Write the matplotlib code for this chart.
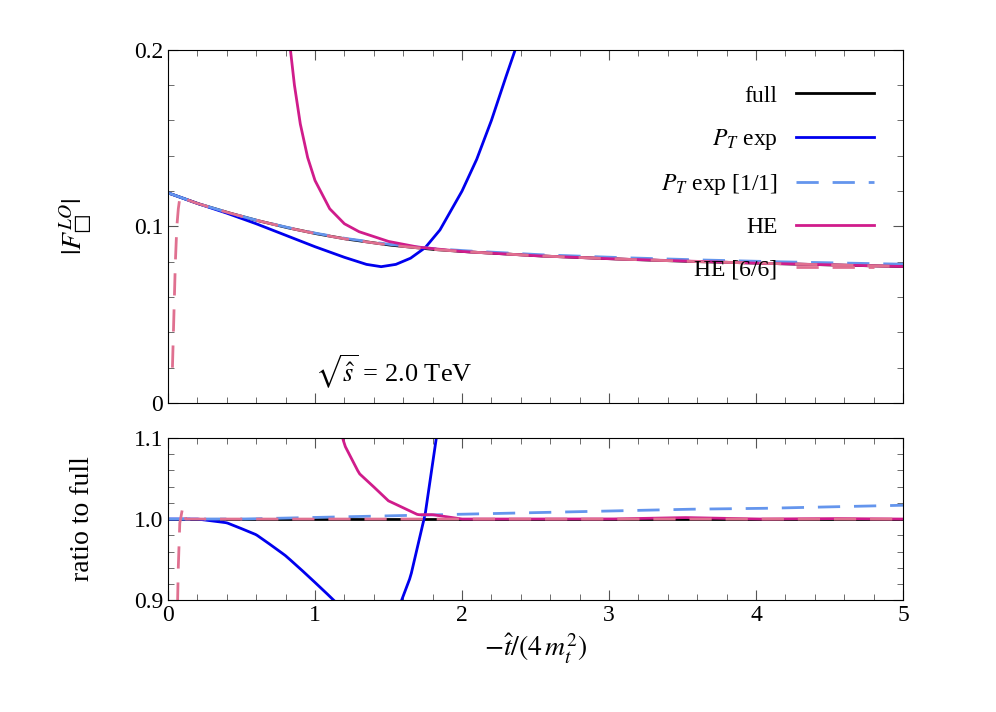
import numpy as np
import matplotlib.pyplot as plt
from matplotlib.ticker import MultipleLocator

plt.rcParams["font.family"] = "Liberation Serif"
plt.rcParams["mathtext.fontset"] = "stix"
plt.rcParams["font.size"] = 17

# full result
x_full = [0.0, 0.2, 0.4, 0.6, 0.8, 1.0, 1.2, 1.5, 1.8, 2.0, 2.5, 3.0, 3.5, 4.0, 4.5, 5.0]
y_full = [0.119, 0.113, 0.108, 0.1035, 0.0995, 0.096, 0.093, 0.0895, 0.087, 0.0858, 0.0834, 0.0817, 0.0803, 0.0792, 0.0782, 0.0773]

# P_T expansion
x_pt = [0.0, 0.2, 0.4, 0.6, 0.8, 1.0, 1.2, 1.35, 1.45, 1.55, 1.65, 1.75, 1.85, 2.0, 2.1, 2.2, 2.3, 2.37]
y_pt = [0.119, 0.113, 0.1075, 0.1015, 0.095, 0.0885, 0.0825, 0.0785, 0.0772, 0.0785, 0.082, 0.088, 0.098, 0.12, 0.138, 0.16, 0.185, 0.202]

# P_T exp [1/1] ratio to full
x_pt11 = [0.0, 0.5, 1.0, 1.5, 2.0, 2.5, 3.0, 3.5, 4.0, 4.5, 5.0]
r_pt11 = [1.0, 1.0, 1.002, 1.004, 1.006, 1.008, 1.010, 1.012, 1.013, 1.015, 1.017]

# HE expansion
x_he = [0.83, 0.86, 0.9, 0.95, 1.0, 1.1, 1.2, 1.3, 1.5, 1.7, 2.0, 2.5, 3.0, 4.0, 5.0]
y_he = [0.202, 0.18, 0.158, 0.139, 0.126, 0.110, 0.1015, 0.097, 0.0915, 0.0883, 0.0858, 0.0834, 0.0817, 0.0792, 0.0773]

# HE [6/6]
x_he66 = [0.03, 0.04, 0.05, 0.06, 0.07, 0.08, 0.1]
y_he66 = [0.02, 0.05, 0.08, 0.10, 0.11, 0.116, 0.1177]

full_i = lambda x: np.interp(x, x_full, y_full)

fig = plt.figure(figsize=(9.96, 7.12), dpi=100)
ax1 = fig.add_axes([0.1687, 0.434, 0.7379, 0.496])
ax2 = fig.add_axes([0.1687, 0.157, 0.7379, 0.228])

blue = "#0000ee"
lblue = "#6495ed"
mag = "#d01c8b"
pink = "#e07090"

xs = np.linspace(0, 5, 400)
ax1.plot(xs, full_i(xs), color="black", lw=2, label="full")
ax1.plot(x_pt, y_pt, color=blue, lw=2, label=r"$P_T$ exp")
ax1.plot(xs, full_i(xs) * np.interp(xs, x_pt11, r_pt11), color=lblue, lw=2, dashes=(8, 5), label=r"$P_T$ exp [1/1]")
ax1.plot(x_he, y_he, color=mag, lw=2, label="HE")
xh = np.concatenate([x_he66, np.linspace(0.12, 5, 200)])
yh = np.concatenate([y_he66, full_i(np.linspace(0.12, 5, 200))])
ax1.plot(xh, yh, color=pink, lw=2, dashes=(8, 5), label="HE [6/6]")

ax2.axhline(1.0, color="black", lw=2)
xr = np.linspace(0, 2.37, 200)
ax2.plot(xr, np.interp(xr, x_pt, y_pt) / full_i(xr), color=blue, lw=2)
ax2.plot(xs, np.interp(xs, x_pt11, r_pt11), color=lblue, lw=2, dashes=(8, 5))
xe = np.linspace(0.83, 5, 300)
ax2.plot(xe, np.interp(xe, x_he, y_he) / full_i(xe), color=mag, lw=2)
ax2.plot(xh, yh / full_i(xh), color=pink, lw=2, dashes=(8, 5))

ax1.set_xlim(0, 5)
ax1.set_ylim(0, 0.2)
ax2.set_xlim(0, 5)
ax2.set_ylim(0.9, 1.1)
for ax in (ax1, ax2):
    ax.xaxis.set_major_locator(MultipleLocator(1))
    ax.xaxis.set_minor_locator(MultipleLocator(0.2))
    ax.yaxis.set_major_locator(MultipleLocator(0.1))
    ax.yaxis.set_minor_locator(MultipleLocator(0.02))
    ax.tick_params(which="both", direction="in", top=True, right=True, color="#555555")
    ax.tick_params(which="major", length=7)
    ax.tick_params(which="minor", length=4)
ax1.tick_params(labelbottom=False)
ax1.yaxis.set_major_formatter(plt.FuncFormatter(lambda v, p: "0" if abs(v) < 1e-9 else f"{v:.1f}"))
ax2.yaxis.set_major_formatter(plt.FuncFormatter(lambda v, p: f"{v:.1f}"))
ax2.xaxis.set_major_formatter(plt.FuncFormatter(lambda v, p: f"{v:.0f}"))

ax1.set_ylabel("$|F_{\u25a1}^{LO}|$", fontsize=20)
ax2.set_ylabel("ratio to full", fontsize=20)
ax2.set_xlabel(r"$-\hat{t}/(4\,m_t^2)$", fontsize=20)
ax1.yaxis.set_label_coords(-0.1, 0.5)
ax2.yaxis.set_label_coords(-0.1, 0.5)
ax1.text(1.0, 0.012, r"$\sqrt{\hat{s}}$ = 2.0 TeV", fontsize=19)

ax1.legend(loc="upper right", frameon=False, markerfirst=False, handlelength=3.3,
           labelspacing=0.85, fontsize=17, bbox_to_anchor=(0.99, 0.96))

fig.savefig("out.png", dpi=100)
